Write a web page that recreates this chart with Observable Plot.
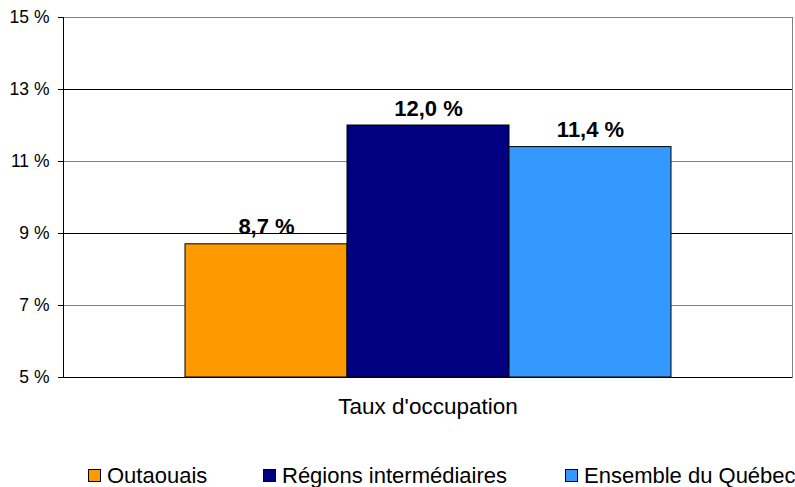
<!DOCTYPE html>
<html>
<head>
<meta charset="utf-8">
<script src="https://cdn.jsdelivr.net/npm/d3@7"></script>
<script src="https://cdn.jsdelivr.net/npm/@observablehq/plot@0.6"></script>
<style>
  html, body { margin: 0; padding: 0; background: white; }
  #wrap { width: 795px; height: 487px; position: relative; overflow: hidden; font-family: 'Liberation Sans', Arial, sans-serif; }
  #legend { position: relative; width: 795px; height: 47px; }
  .item { position: absolute; top: 25px; display: flex; align-items: center; font-size: 22px; line-height: 21px; height: 21px; color: black; white-space: nowrap; }
  .sw { width: 11px; height: 11px; border: 1px solid black; margin-right: 6px; }
</style>
</head>
<body>
<div id="wrap"></div>
<script>
const categories = ["Outaouais", "Régions intermédiaires", "Ensemble du Québec"];
const values = [8.7, 12.0, 11.4];
const valueLabels = ["8,7 %", "12,0 %", "11,4 %"];
const colors = ["#FF9900", "#000080", "#3399FF"];
const yTicks = [5, 7, 9, 11, 13, 15];
const groupLabel = "Taux d'occupation";

const data = categories.map((c, i) => ({cat: c, value: values[i], label: valueLabels[i], group: groupLabel}));

const chart = Plot.plot({
  width: 795,
  height: 440,
  marginTop: 17,
  marginBottom: 63,
  marginLeft: 63,
  marginRight: 3,
  style: {fontFamily: "'Liberation Sans', Arial, sans-serif", fontSize: "17.5px", background: "white", color: "black"},
  fx: {domain: [groupLabel], padding: 0},
  x: {domain: categories, paddingInner: 0, paddingOuter: 0.75, axis: null},
  y: {domain: [yTicks[0], yTicks[yTicks.length - 1]], clamp: true},
  color: {domain: categories, range: colors},
  marks: [
    Plot.frame({stroke: "#808080"}),
    Plot.ruleY(yTicks.slice(1, -1), {stroke: (d, i) => i % 2 === 0 ? "#808080" : "black"}),
    Plot.barY(data, {fx: "group", x: "cat", y: "value", fill: "cat", stroke: "black", strokeWidth: 1}),
    Plot.text(data, {fx: "group", x: "cat", y: "value", text: "label", lineAnchor: "bottom", dy: -10, fontSize: 22, fontWeight: "bold"}),
    Plot.ruleY([yTicks[0]], {stroke: "black"}),
    Plot.frame({anchor: "left", stroke: "black"}),
    Plot.axisY(yTicks, {tickFormat: d => d + " %", tickSize: 5, tickPadding: 9, label: null, fontSize: 17.5}),
    Plot.axisFx({anchor: "bottom", tickSize: 0, tickPadding: 21, fontSize: 22.5, label: null})
  ]
});

const wrap = document.getElementById("wrap");
wrap.appendChild(chart);

const legend = document.createElement("div");
legend.id = "legend";
const lefts = [88, 263, 565];
categories.forEach((c, i) => {
  const item = document.createElement("div");
  item.className = "item";
  item.style.left = lefts[i] + "px";
  const sw = document.createElement("div");
  sw.className = "sw";
  sw.style.background = colors[i];
  const t = document.createElement("span");
  t.textContent = c;
  item.appendChild(sw);
  item.appendChild(t);
  legend.appendChild(item);
});
wrap.appendChild(legend);
</script>
</body>
</html>
